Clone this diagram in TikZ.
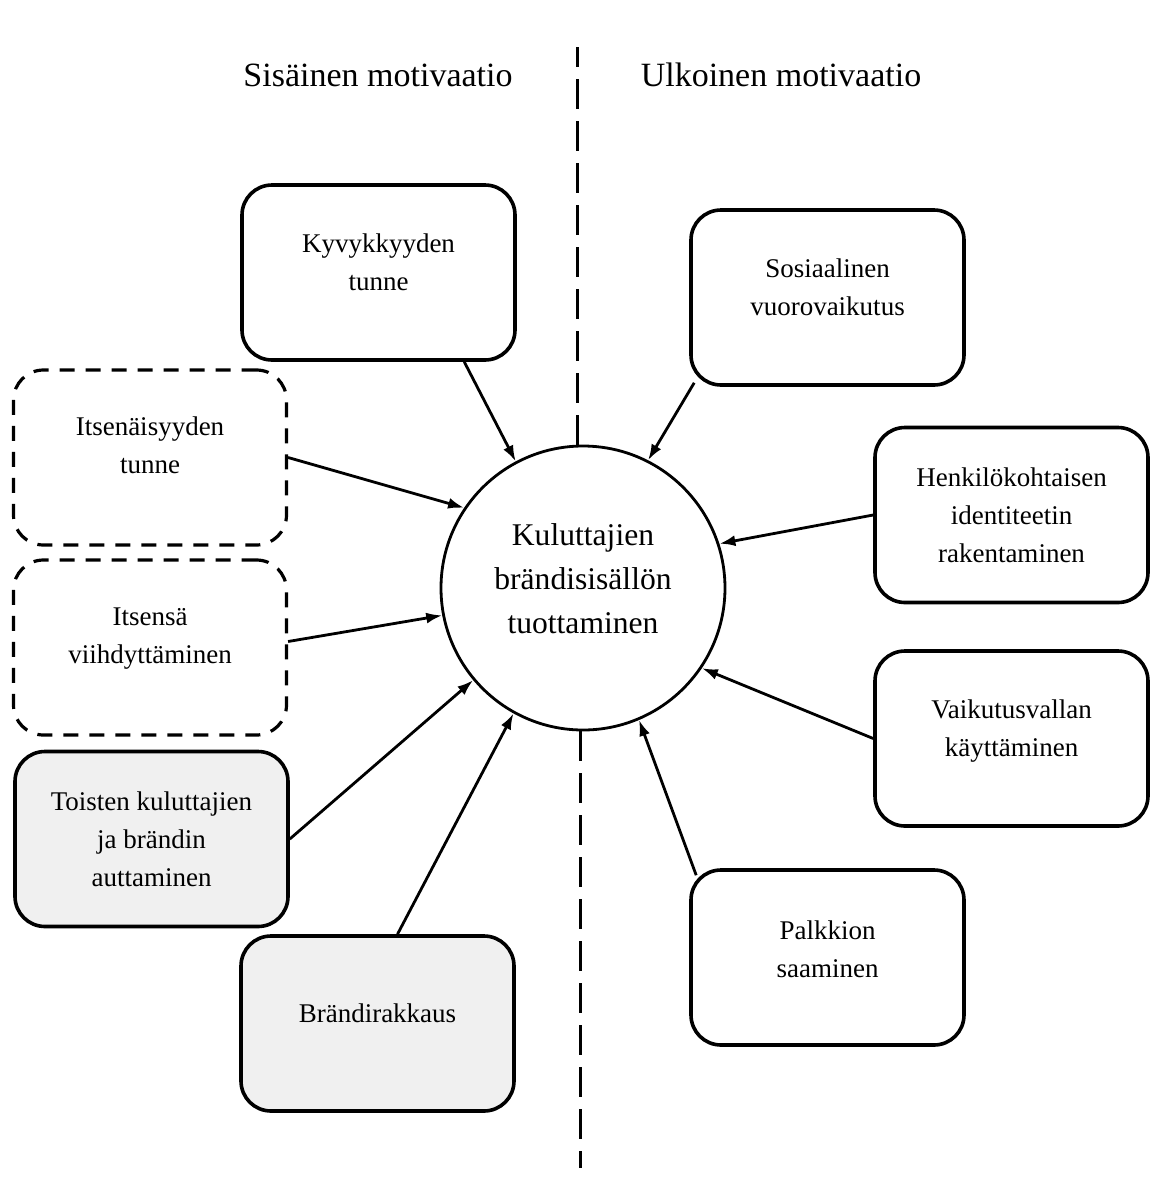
\documentclass[tikz,border=0pt]{standalone}
\usepackage{fontspec}
\setmainfont{Liberation Serif}
\usetikzlibrary{arrows.meta,calc}
\definecolor{boxgray}{HTML}{F0F0F0}
\begin{document}
\begin{tikzpicture}[x=0.5pt,y=-0.5pt,
  box/.style={draw, line width=1.8pt, rounded corners=15pt, minimum width=136.5pt, minimum height=87.5pt, inner sep=0pt},
  dbox/.style={box, line width=1.6pt, dash pattern=on 7.5pt off 5.5pt},
  gbox/.style={box, fill=boxgray},
  btext/.style={align=center, font=\fontsize{13.5}{19}\selectfont, inner sep=0pt},
  ctext/.style={align=center, font=\fontsize{15.8}{22}\selectfont, inner sep=0pt},
  conn/.style={line width=1.4pt, -{Latex[length=8pt,width=5.5pt]}},
  divider/.style={line width=1.5pt, dash pattern=on 15pt off 6pt},
  title/.style={font=\fontsize{17}{20}\selectfont}]
\useasboundingbox (0,0) rectangle (1152,1180);

% titles
\node[title] (tin) at (378,75) {Sisäinen motivaatio};
\node[title] (tout) at (781,75) {Ulkoinen motivaatio};

% centre
\node[circle, draw, line width=1.4pt, minimum size=142pt, inner sep=0pt,
      label={[ctext, yshift=4.5pt]center:{Kuluttajien\\brändisisällön\\tuottaminen}}] (c) at (583,588) {};

% divider
\coordinate (dtop) at (577,47);
\coordinate (dbot) at (580,1168);
\draw[divider] (dtop |- c.north) -- (dtop);
\draw[divider] (dbot |- c.south) -- (dbot);

% left boxes
\node[box,  label={[btext, yshift=5pt]center:{Kyvykkyyden\\tunne}}] (kyv) at (378.5,272.5) {};
\node[dbox, label={[btext, yshift=6pt]center:{Itsenäisyyden\\tunne}}] (its) at (150,457.5) {};
\node[dbox, label={[btext, yshift=4.5pt]center:{Itsensä\\viihdyttäminen}}] (its2) at (150,647.5) {};
\node[gbox, label={[btext, yshift=0pt]center:{Toisten kuluttajien\\ja brändin\\auttaminen}}] (toi) at (151.5,839) {};
\node[gbox, label={[btext, yshift=5pt]center:{Brändirakkaus}}] (bra) at (377.5,1023.5) {};

% right boxes
\node[box, label={[btext, yshift=5pt]center:{Sosiaalinen\\vuorovaikutus}}] (sos) at (827.5,297.5) {};
\node[box, label={[btext, yshift=0pt]center:{Henkilökohtaisen\\identiteetin\\rakentaminen}}] (hen) at (1011.5,515) {};
\node[box, label={[btext, yshift=3.5pt]center:{Vaikutusvallan\\käyttäminen}}] (vai) at (1011.5,738.5) {};
\node[box, label={[btext, yshift=4pt]center:{Palkkion\\saaminen}}] (pal) at (827.5,957.5) {};

% connectors
\draw[conn] ($(kyv.south west)!0.81!(kyv.south east)$) -- (c.118);
\draw[conn] ($(sos.south west)+(5,-4)$) -- (c.63);
\draw[conn] (its.east) -- (c.146);
\draw[conn] ($(its2.east)+(0,-6)$) -- (c.191);
\draw[conn] (toi.east) -- (c.220);
\draw[conn] ($(bra.north)+(20,0)$) -- (c.241);
\draw[conn] (hen.west) -- (c.18);
\draw[conn] (vai.west) -- (c.326);
\draw[conn] ($(pal.north west)+(7,7)$) -- (c.293);
\end{tikzpicture}
\end{document}
